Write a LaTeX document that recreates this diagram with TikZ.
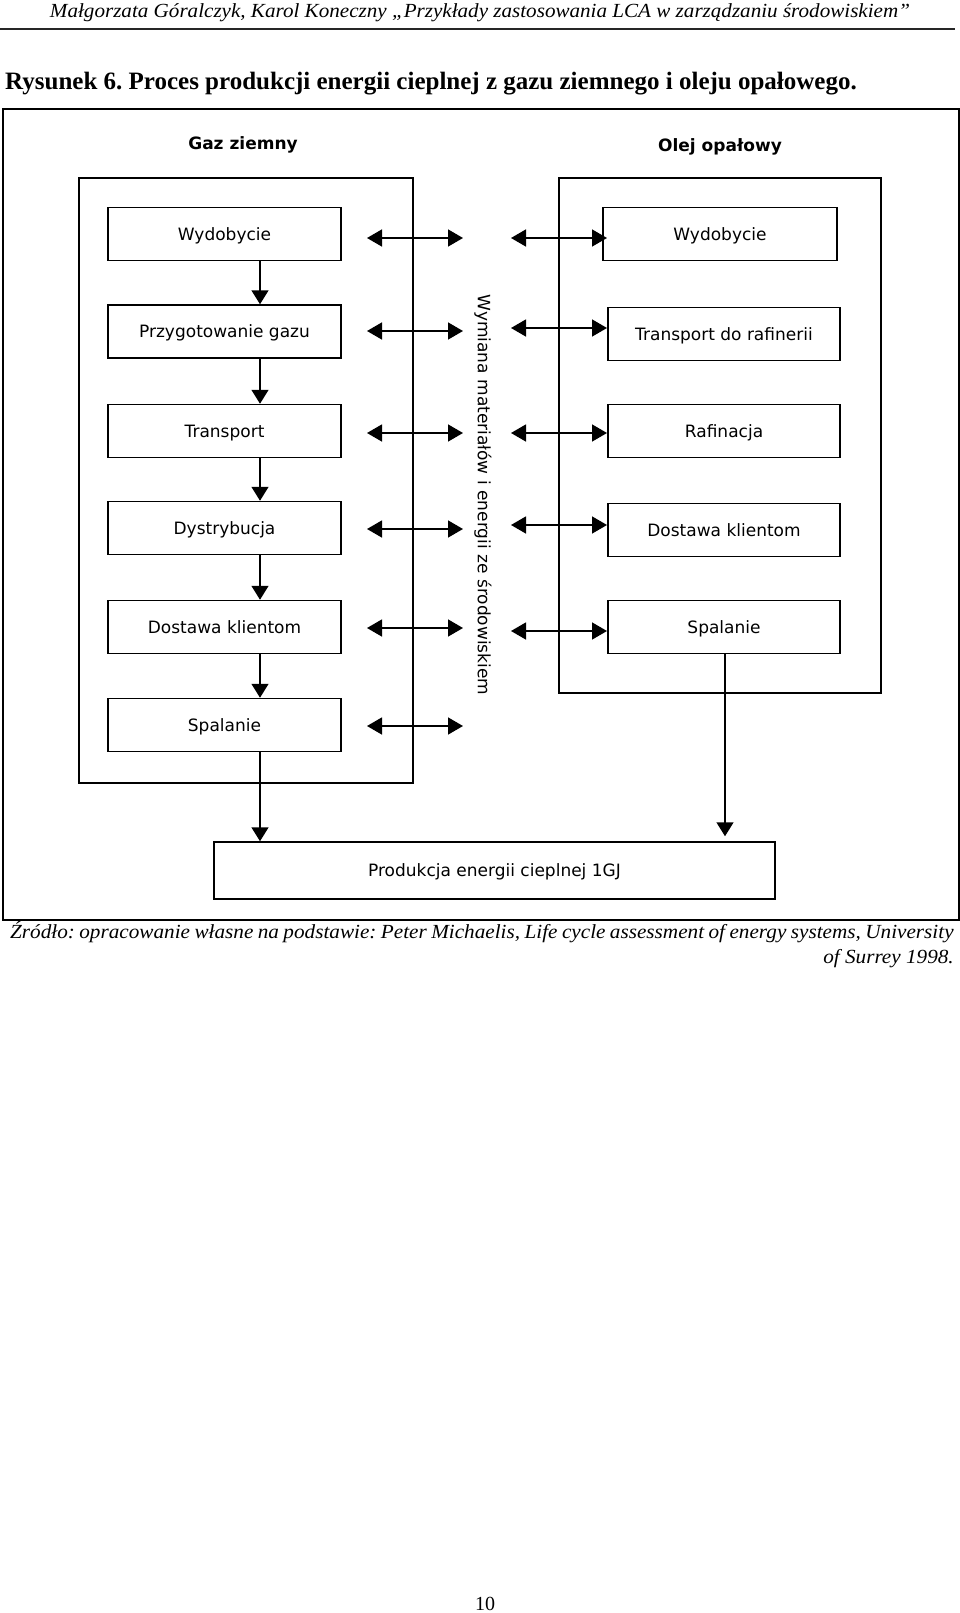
\documentclass[tikz,border=0pt]{standalone}
\usepackage{fontspec}
\setmainfont{Liberation Serif}
\newfontfamily\dvs{DejaVu Sans}
\usetikzlibrary{arrows.meta}
\frenchspacing
\begin{document}
\begin{tikzpicture}[x=1pt,y=-1pt,
  box/.style={draw, line width=1.5pt, inner sep=0pt, minimum height=53pt,
    text height=12.5pt, text depth=0pt, font=\dvs\fontsize{17}{20}\selectfont},
  lbox/.style={box, minimum width=233pt},
  rbox/.style={box, minimum width=232pt},
  frame/.style={draw, line width=1.5pt},
  arr/.style={line width=1.5pt, -{Triangle[width=17pt,length=14pt]}},
  dbl/.style={line width=1.5pt, {Triangle[width=17pt,length=15pt]}-{Triangle[width=17pt,length=15pt]}},
  head/.style={font=\dvs\bfseries\fontsize{17}{20}\selectfont, inner sep=0pt},
  txt/.style={inner sep=0pt}
]
\useasboundingbox (0,0) rectangle (960,1613);
% page header
\node[txt, anchor=base, font=\itshape\fontsize{20}{24}\selectfont] (hdr) at (480,18)
  {\scalebox{1.055}[1]{Małgorzata Góralczyk, Karol Koneczny „Przykłady zastosowania LCA w zarządzaniu środowiskiem”}};
\coordinate (hl1) at (0,29);
\coordinate (hl2) at (955,29);
\draw[line width=2.5pt, black!85] (hl1) -- (hl2);
\node[txt, anchor=base west, font=\bfseries\fontsize{25}{30}\selectfont] (title) at (5,90)
  {Rysunek 6. Proces produkcji energii cieplnej z gazu ziemnego i oleju opałowego.};
% frames
\draw[frame] (3,109) rectangle (959,920);
\draw[frame] (79,178) rectangle (413,783);
\draw[frame] (559,178) rectangle (881,693);
% headings
\node[head] (gaz) at (243,145) {Gaz ziemny};
\node[head] (olej) at (720,147) {Olej opałowy};
% left column
\node[lbox] (lW) at (224.5,234) {Wydobycie};
\node[lbox] (lP) at (224.5,331.5) {Przygotowanie gazu};
\node[lbox] (lT) at (224.5,431) {Transport};
\node[lbox] (lD) at (224.5,528) {Dystrybucja};
\node[lbox] (lK) at (224.5,627) {Dostawa klientom};
\node[lbox] (lS) at (224.5,725) {Spalanie};
% right column
\node[box, minimum width=234pt] (rW) at (720,234) {Wydobycie};
\node[rbox] (rT) at (724,334) {Transport do rafinerii};
\node[rbox] (rR) at (724,431) {Rafinacja};
\node[rbox] (rK) at (724,530) {Dostawa klientom};
\node[rbox] (rS) at (724,627) {Spalanie};
% product
\node[box, minimum width=561pt, minimum height=57pt] (prod) at (494.5,870.5) {Produkcja energii cieplnej 1GJ};
% middle label
\node[txt, rotate=-90, font=\dvs\fontsize{17}{20}\selectfont] (wym) at (483,495)
  {Wymiana materiałów i energii ze środowiskiem};
% vertical flow arrows
\coordinate (axL) at (260,0);
\coordinate (axR) at (725,0);
\draw[arr] (lW.south -| axL) -- (lP.north -| axL);
\draw[arr] (lP.south -| axL) -- (lT.north -| axL);
\draw[arr] (lT.south -| axL) -- (lD.north -| axL);
\draw[arr] (lD.south -| axL) -- (lK.north -| axL);
\draw[arr] (lK.south -| axL) -- (lS.north -| axL);
\draw[arr] (lS.south -| axL) -- (prod.north -| axL);
\draw[arr, shorten >=5pt] (rS.south -| axR) -- (prod.north -| axR);
% exchange arrows
\foreach \yy [count=\i] in {238,331,433,529,628,726} {
  \coordinate (la\i) at (367,\yy);
  \coordinate (lb\i) at (463,\yy);
  \draw[dbl] (la\i) -- (lb\i);
}
\foreach \yy [count=\i] in {238,328,433,525,631} {
  \coordinate (ra\i) at (511,\yy);
  \coordinate (rb\i) at (607,\yy);
  \draw[dbl] (ra\i) -- (rb\i);
}
% source
\node[txt, anchor=base west, font=\itshape\fontsize{20}{24}\selectfont] (src1) at (10,938)
  {\scalebox{1.06}[1]{\makebox[890pt][s]{Źródło: opracowanie własne na podstawie: Peter Michaelis, Life cycle assessment of energy systems, University}}};
\node[txt, anchor=base east, font=\itshape\fontsize{20}{24}\selectfont] (src2) at (954,963)
  {\scalebox{1.06}[1]{of Surrey 1998.}};
% page number
\node[txt, anchor=base, font=\fontsize{20}{24}\selectfont] (pg) at (485,1610) {10};
\end{tikzpicture}
\end{document}
